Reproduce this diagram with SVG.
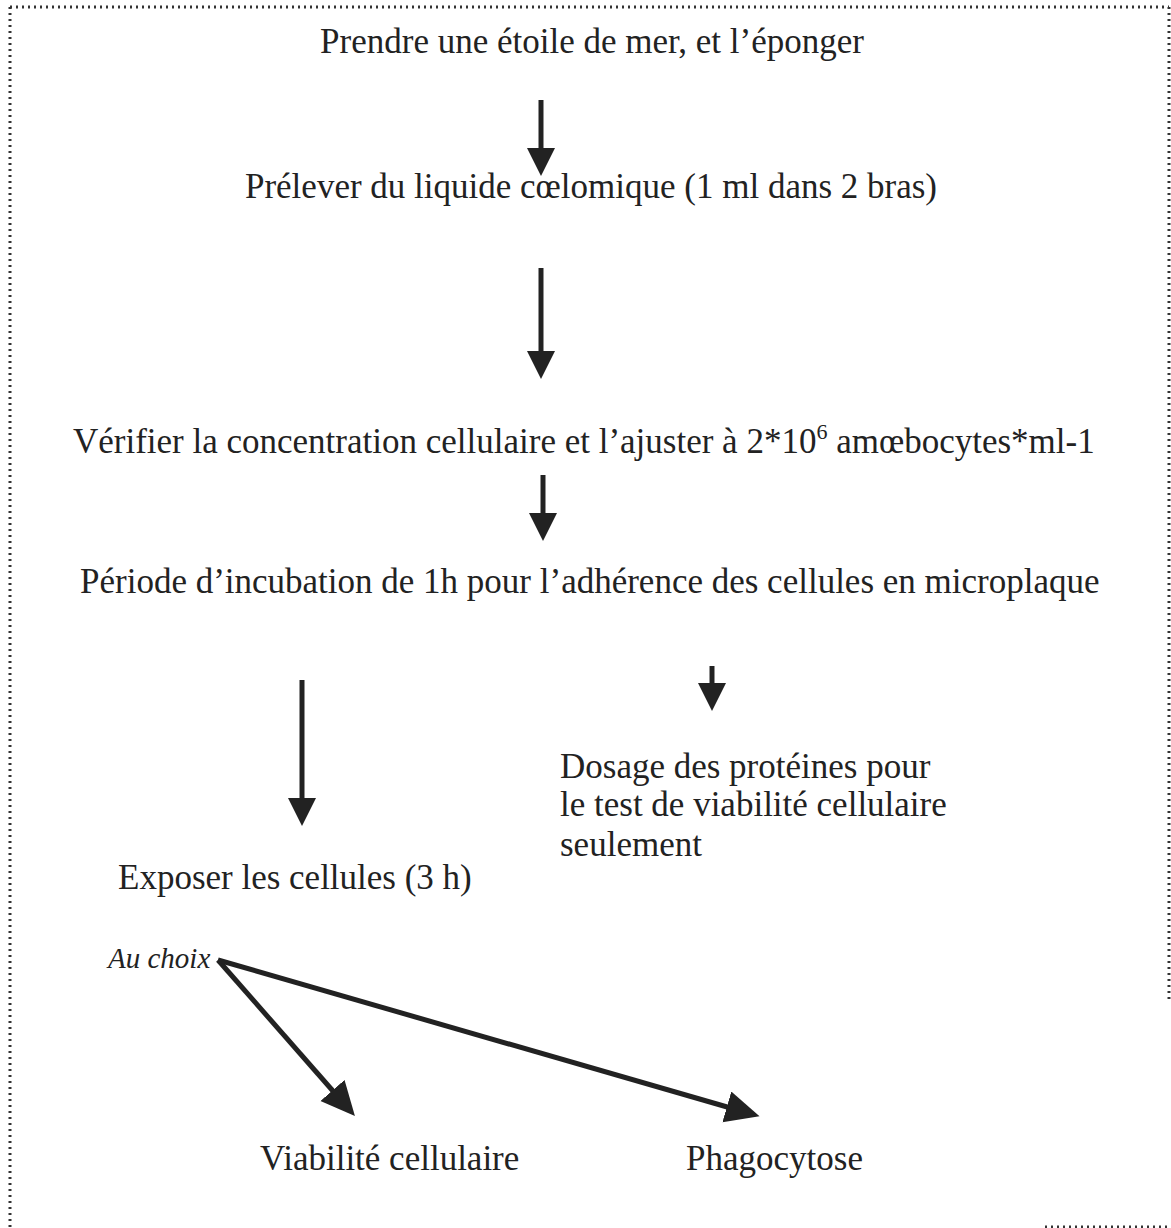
<svg xmlns="http://www.w3.org/2000/svg" width="1171" height="1228" viewBox="0 0 1171 1228">
<style>
.t{font-family:"Liberation Serif","Times New Roman",serif;font-size:35px;fill:#222}
.i{font-style:italic;font-size:29px}
.b{stroke:#333;stroke-width:3;stroke-dasharray:2 4;fill:none}
.c{stroke:#222;stroke-width:5;fill:none}
</style>
<defs>
<marker id="ah" markerUnits="userSpaceOnUse" markerWidth="32" markerHeight="30" refX="18" refY="14" orient="auto">
<path d="M0,0 L28,14 L0,28 Z" fill="#222"/>
</marker>
<marker id="ah2" markerUnits="userSpaceOnUse" markerWidth="36" markerHeight="34" refX="22" refY="16" orient="auto">
<path d="M0,0 L34,16 L0,32 Z" fill="#222"/>
</marker>
</defs>
<g id="frame">
<line class="b" x1="10" y1="7" x2="1169" y2="7"/>
<line class="b" x1="10" y1="7" x2="10" y2="1228"/>
<line class="b" x1="1169" y1="7" x2="1169" y2="1000"/>
<line class="b" x1="1045" y1="1227" x2="1171" y2="1227"/>
</g>
<g id="connectors">
<line class="c" x1="541" y1="100" x2="541" y2="166" marker-end="url(#ah)"/>
<line class="c" x1="541" y1="268" x2="541" y2="369" marker-end="url(#ah)"/>
<line class="c" x1="543" y1="475" x2="543" y2="531" marker-end="url(#ah)"/>
<line class="c" x1="712" y1="666" x2="712" y2="701" marker-end="url(#ah)"/>
<line class="c" x1="302" y1="680" x2="302" y2="816" marker-end="url(#ah)"/>
<line class="c" x1="218" y1="960" x2="347" y2="1107" marker-end="url(#ah2)"/>
<line class="c" x1="218" y1="960" x2="748" y2="1113" marker-end="url(#ah2)"/>
</g>
<g id="n1"><text class="t" x="592" y="53" text-anchor="middle">Prendre une étoile de mer, et l’éponger</text></g>
<g id="n2"><text class="t" x="591" y="198" text-anchor="middle">Prélever du liquide cœlomique (1 ml dans 2 bras)</text></g>
<g id="n3"><text class="t" x="73" y="453">Vérifier la concentration cellulaire et l’ajuster à 2*10<tspan dy="-14" font-size="22">6</tspan><tspan dy="14"> amœbocytes*ml-1</tspan></text></g>
<g id="n4"><text class="t" x="80" y="593">Période d’incubation de 1h pour l’adhérence des cellules en microplaque</text></g>
<g id="n5"><text class="t" x="560" y="778">Dosage des protéines pour</text><text class="t" x="560" y="816">le test de viabilité cellulaire</text><text class="t" x="560" y="856">seulement</text></g>
<g id="n6"><text class="t" x="118" y="889">Exposer les cellules (3 h)</text></g>
<g id="n7"><text class="t i" x="108" y="968">Au choix</text></g>
<g id="n8"><text class="t" x="260" y="1170">Viabilité cellulaire</text></g>
<g id="n9"><text class="t" x="686" y="1170">Phagocytose</text></g>
</svg>
